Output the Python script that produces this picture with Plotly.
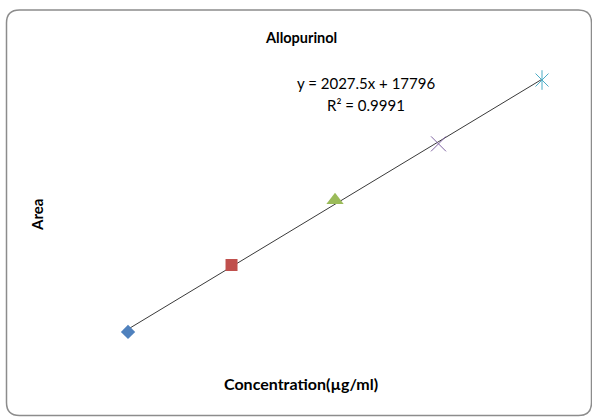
import numpy as np
import plotly.graph_objects as go

# ---- data ----
concentration = [10, 20, 30, 40, 50]          # µg/ml
area = [37200, 58900, 79900, 98200, 118900]
marker_symbols = ["diamond", "square", "triangle-up", "x-thin-open", "x-thin-open"]
marker_colors = ["#4F81BD", "#C0504D", "#9BBB59", "#8064A2", "#4BACC6"]
marker_sizes = [11, 12, 15, 15, 13]
title_text = "Allopurinol"
x_title = "Concentration(µg/ml)"
y_title = "Area"
equation_text = "y = 2027.5x + 17796"
r2_text = "R² = 0.9991"

W, H = 592, 417

def px(x):
    return x / W

def py(y):
    return 1 - y / H

fig = go.Figure()

# trendline (least squares) drawn between min and max concentration
slope, intercept = np.polyfit(concentration, area, 1)
xs = [min(concentration), max(concentration)]
fig.add_trace(go.Scatter(x=xs, y=[slope * v + intercept for v in xs], mode="lines",
                         line=dict(color="#3a3a3a", width=1), hoverinfo="skip",
                         showlegend=False))

for c, a, s, col, sz in zip(concentration, area, marker_symbols, marker_colors, marker_sizes):
    open_sym = s.endswith("open")
    fig.add_trace(go.Scatter(
        x=[c], y=[a], mode="markers", showlegend=False,
        marker=dict(symbol=s, size=sz, color=col,
                    line=dict(color=col, width=1 if open_sym else 0))))

# Excel "star" marker = X plus a vertical stroke (last point)
fig.add_trace(go.Scatter(
    x=[concentration[-1]], y=[area[-1]], mode="markers", showlegend=False,
    marker=dict(symbol="line-ns-open", size=marker_sizes[-1] + 1, color=marker_colors[-1],
                line=dict(color=marker_colors[-1], width=1))))

# rounded chart-area border
L, T, R, B, r = 6.5, 10, 591.5, 415.5, 13
path = (f"M {px(L + r)},{py(T)} L {px(R - r)},{py(T)} Q {px(R)},{py(T)} {px(R)},{py(T + r)} "
        f"L {px(R)},{py(B - r)} Q {px(R)},{py(B)} {px(R - r)},{py(B)} "
        f"L {px(L + r)},{py(B)} Q {px(L)},{py(B)} {px(L)},{py(B - r)} "
        f"L {px(L)},{py(T + r)} Q {px(L)},{py(T)} {px(L + r)},{py(T)} Z")

font_family = "Lato, 'Open Sans', sans-serif"

def label(text, x, y, size, angle=0):
    return dict(text=text, x=px(x), y=py(y), xref="paper", yref="paper",
                xanchor="center", yanchor="middle", showarrow=False, textangle=angle,
                font=dict(family=font_family, size=size, color="black"))

fig.update_layout(
    width=W, height=H,
    margin=dict(l=0, r=0, t=0, b=0),
    paper_bgcolor="white", plot_bgcolor="white",
    showlegend=False,
    xaxis=dict(range=[-2.37, 54.83], visible=False, domain=[0, 1]),
    yaxis=dict(range=[9600, 144860], visible=False, domain=[0, 1]),
    shapes=[dict(type="path", path=path, xref="paper", yref="paper",
                 line=dict(color="#8c8c8c", width=1.5), layer="below")],
    annotations=[
        label(f"<b>{title_text}</b>", 301, 37, 14.5),
        label(equation_text, 366, 83, 15),
        label(r2_text, 366, 105, 15),
        label(f"<b>{y_title}</b>", 37, 215, 15, -90),
        label(f"<b>{x_title}</b>", 301, 383, 16),
    ],
)

fig.write_html("out.html")
